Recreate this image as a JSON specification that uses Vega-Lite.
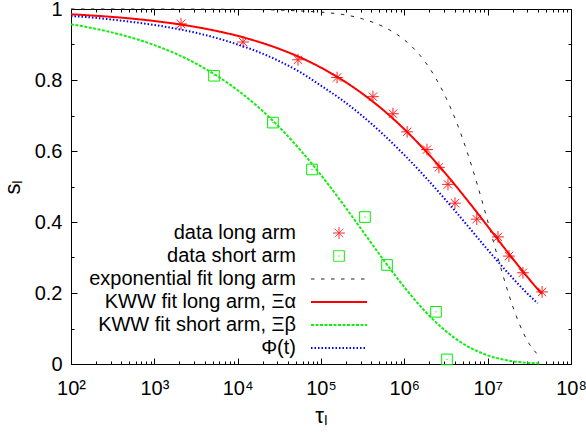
{
  "$schema": "https://vega.github.io/schema/vega-lite/v6.json",
  "width": 500,
  "height": 355,
  "autosize": "none",
  "padding": {"left": 71, "top": 9, "right": 15, "bottom": 79},
  "background": "white",
  "config": {
    "font": "Liberation Sans",
    "view": {"stroke": "black", "strokeWidth": 1},
    "axis": {"grid": false, "domain": false, "tickColor": "black", "labelColor": "black", "labelFont": "Liberation Sans", "labelFontSize": 20, "titleFont": "Liberation Sans", "titleFontWeight": "normal", "titleColor": "black", "labelOverlap": false, "labelFlush": false, "labelBound": false},
    "legend": {"orient": "none", "legendX": 258, "legendY": 214, "title": null, "symbolSize": 3136, "symbolStrokeWidth": 1, "rowPadding": 3, "labelAlign": "right", "labelOffset": -53, "labelFontSize": 20, "labelFont": "Liberation Sans", "labelColor": "black", "labelLimit": 400, "padding": 0}
  },
  "datasets": {
    "points": [
      {"series": "data long arm", "t": 2090, "s": 0.958},
      {"series": "data long arm", "t": 11600, "s": 0.907},
      {"series": "data long arm", "t": 53000, "s": 0.857},
      {"series": "data long arm", "t": 156000, "s": 0.807},
      {"series": "data long arm", "t": 420000, "s": 0.753},
      {"series": "data long arm", "t": 730000, "s": 0.705},
      {"series": "data long arm", "t": 1080000, "s": 0.654},
      {"series": "data long arm", "t": 1870000, "s": 0.604},
      {"series": "data long arm", "t": 2600000, "s": 0.554},
      {"series": "data long arm", "t": 3340000, "s": 0.506},
      {"series": "data long arm", "t": 4050000, "s": 0.453},
      {"series": "data long arm", "t": 7400000, "s": 0.408},
      {"series": "data long arm", "t": 13300000, "s": 0.358},
      {"series": "data long arm", "t": 18000000, "s": 0.304},
      {"series": "data long arm", "t": 26500000, "s": 0.257},
      {"series": "data long arm", "t": 45000000, "s": 0.203},
      {"series": "data short arm", "t": 5200, "s": 0.812},
      {"series": "data short arm", "t": 26500, "s": 0.680},
      {"series": "data short arm", "t": 78000, "s": 0.548},
      {"series": "data short arm", "t": 337000, "s": 0.414},
      {"series": "data short arm", "t": 620000, "s": 0.279},
      {"series": "data short arm", "t": 2400000, "s": 0.147},
      {"series": "data short arm", "t": 3250000, "s": 0.013}
    ],
    "expfit": [
      {"series": "exponential fit long arm", "t": 100, "s": 1.0},
      {"series": "exponential fit long arm", "t": 1000, "s": 0.9999},
      {"series": "exponential fit long arm", "t": 10000, "s": 0.9991},
      {"series": "exponential fit long arm", "t": 100000, "s": 0.991},
      {"series": "exponential fit long arm", "t": 316228, "s": 0.972},
      {"series": "exponential fit long arm", "t": 562341, "s": 0.950},
      {"series": "exponential fit long arm", "t": 1000000, "s": 0.913},
      {"series": "exponential fit long arm", "t": 1333521, "s": 0.886},
      {"series": "exponential fit long arm", "t": 1778279, "s": 0.851},
      {"series": "exponential fit long arm", "t": 2371374, "s": 0.806},
      {"series": "exponential fit long arm", "t": 3162278, "s": 0.750},
      {"series": "exponential fit long arm", "t": 4216965, "s": 0.682},
      {"series": "exponential fit long arm", "t": 5623413, "s": 0.600},
      {"series": "exponential fit long arm", "t": 7498942, "s": 0.506},
      {"series": "exponential fit long arm", "t": 10000000, "s": 0.403},
      {"series": "exponential fit long arm", "t": 13335214, "s": 0.2975},
      {"series": "exponential fit long arm", "t": 17782794, "s": 0.1987},
      {"series": "exponential fit long arm", "t": 23713737, "s": 0.1158},
      {"series": "exponential fit long arm", "t": 31622777, "s": 0.0564},
      {"series": "exponential fit long arm", "t": 39810717, "s": 0.0268}
    ],
    "fits": [
      {"series": "KWW fit long arm, Ξα", "t": 100, "s": 0.9851},
      {"series": "KWW fit long arm, Ξα", "t": 177.8, "s": 0.9817},
      {"series": "KWW fit long arm, Ξα", "t": 316.2, "s": 0.9776},
      {"series": "KWW fit long arm, Ξα", "t": 562.3, "s": 0.9725},
      {"series": "KWW fit long arm, Ξα", "t": 1000, "s": 0.9662},
      {"series": "KWW fit long arm, Ξα", "t": 1778, "s": 0.9586},
      {"series": "KWW fit long arm, Ξα", "t": 3162, "s": 0.9493},
      {"series": "KWW fit long arm, Ξα", "t": 5623, "s": 0.9380},
      {"series": "KWW fit long arm, Ξα", "t": 10000, "s": 0.9243},
      {"series": "KWW fit long arm, Ξα", "t": 17783, "s": 0.9076},
      {"series": "KWW fit long arm, Ξα", "t": 31623, "s": 0.8876},
      {"series": "KWW fit long arm, Ξα", "t": 56234, "s": 0.8636},
      {"series": "KWW fit long arm, Ξα", "t": 100000, "s": 0.8349},
      {"series": "KWW fit long arm, Ξα", "t": 177828, "s": 0.8009},
      {"series": "KWW fit long arm, Ξα", "t": 316228, "s": 0.7610},
      {"series": "KWW fit long arm, Ξα", "t": 562341, "s": 0.7147},
      {"series": "KWW fit long arm, Ξα", "t": 1000000, "s": 0.6614},
      {"series": "KWW fit long arm, Ξα", "t": 1778279, "s": 0.6014},
      {"series": "KWW fit long arm, Ξα", "t": 3162278, "s": 0.5350},
      {"series": "KWW fit long arm, Ξα", "t": 5623413, "s": 0.4632},
      {"series": "KWW fit long arm, Ξα", "t": 10000000, "s": 0.3880},
      {"series": "KWW fit long arm, Ξα", "t": 17782794, "s": 0.3120},
      {"series": "KWW fit long arm, Ξα", "t": 31622777, "s": 0.2386},
      {"series": "KWW fit long arm, Ξα", "t": 44668359, "s": 0.1973},
      {"series": "KWW fit short arm, Ξβ", "t": 100, "s": 0.9568},
      {"series": "KWW fit short arm, Ξβ", "t": 177.8, "s": 0.9464},
      {"series": "KWW fit short arm, Ξβ", "t": 316.2, "s": 0.9335},
      {"series": "KWW fit short arm, Ξβ", "t": 562.3, "s": 0.9178},
      {"series": "KWW fit short arm, Ξβ", "t": 1000, "s": 0.8984},
      {"series": "KWW fit short arm, Ξβ", "t": 1778, "s": 0.8748},
      {"series": "KWW fit short arm, Ξβ", "t": 3162, "s": 0.8463},
      {"series": "KWW fit short arm, Ξβ", "t": 5623, "s": 0.8120},
      {"series": "KWW fit short arm, Ξβ", "t": 10000, "s": 0.7711},
      {"series": "KWW fit short arm, Ξβ", "t": 17783, "s": 0.7230},
      {"series": "KWW fit short arm, Ξβ", "t": 31623, "s": 0.6670},
      {"series": "KWW fit short arm, Ξβ", "t": 56234, "s": 0.6033},
      {"series": "KWW fit short arm, Ξβ", "t": 100000, "s": 0.5322},
      {"series": "KWW fit short arm, Ξβ", "t": 177828, "s": 0.4551},
      {"series": "KWW fit short arm, Ξβ", "t": 316228, "s": 0.3744},
      {"series": "KWW fit short arm, Ξβ", "t": 562341, "s": 0.2934},
      {"series": "KWW fit short arm, Ξβ", "t": 1000000, "s": 0.2164},
      {"series": "KWW fit short arm, Ξβ", "t": 1778279, "s": 0.1481},
      {"series": "KWW fit short arm, Ξβ", "t": 3162278, "s": 0.0922},
      {"series": "KWW fit short arm, Ξβ", "t": 5623413, "s": 0.0510},
      {"series": "KWW fit short arm, Ξβ", "t": 10000000, "s": 0.0244},
      {"series": "KWW fit short arm, Ξβ", "t": 17782794, "s": 0.0097},
      {"series": "KWW fit short arm, Ξβ", "t": 31622777, "s": 0.0031},
      {"series": "KWW fit short arm, Ξβ", "t": 41686938, "s": 0.0016},
      {"series": "Φ(t)", "t": 100, "s": 0.980},
      {"series": "Φ(t)", "t": 177.8, "s": 0.976},
      {"series": "Φ(t)", "t": 316.2, "s": 0.970},
      {"series": "Φ(t)", "t": 562.3, "s": 0.963},
      {"series": "Φ(t)", "t": 1000, "s": 0.955},
      {"series": "Φ(t)", "t": 1778, "s": 0.945},
      {"series": "Φ(t)", "t": 3162, "s": 0.933},
      {"series": "Φ(t)", "t": 5623, "s": 0.918},
      {"series": "Φ(t)", "t": 10000, "s": 0.900},
      {"series": "Φ(t)", "t": 17783, "s": 0.879},
      {"series": "Φ(t)", "t": 31623, "s": 0.853},
      {"series": "Φ(t)", "t": 56234, "s": 0.822},
      {"series": "Φ(t)", "t": 100000, "s": 0.784},
      {"series": "Φ(t)", "t": 177828, "s": 0.744},
      {"series": "Φ(t)", "t": 316228, "s": 0.698},
      {"series": "Φ(t)", "t": 562341, "s": 0.646},
      {"series": "Φ(t)", "t": 1000000, "s": 0.589},
      {"series": "Φ(t)", "t": 1778279, "s": 0.527},
      {"series": "Φ(t)", "t": 3162278, "s": 0.461},
      {"series": "Φ(t)", "t": 5623413, "s": 0.392},
      {"series": "Φ(t)", "t": 10000000, "s": 0.322},
      {"series": "Φ(t)", "t": 17782794, "s": 0.255},
      {"series": "Φ(t)", "t": 31622777, "s": 0.193},
      {"series": "Φ(t)", "t": 39810717, "s": 0.171}
    ]
  },
  "layer": [
    {
      "data": {"name": "points"},
      "mark": {"type": "point", "filled": false, "strokeWidth": 1, "size": 3136, "opacity": 1},
      "encoding": {
        "x": {"field": "t", "type": "quantitative", "scale": {"type": "log", "domain": [100, 100000000], "nice": false},
          "axis": {"orient": "bottom", "title": "τₗ", "titleFontSize": 22, "titlePadding": 4,
            "values": [100,200,300,400,500,600,700,800,900,1000,2000,3000,4000,5000,6000,7000,8000,9000,10000,20000,30000,40000,50000,60000,70000,80000,90000,100000,200000,300000,400000,500000,600000,700000,800000,900000,1000000,2000000,3000000,4000000,5000000,6000000,7000000,8000000,9000000,10000000,20000000,30000000,40000000,50000000,60000000,70000000,80000000,90000000,100000000],
            "labelExpr": "abs(log(datum.value)/LN10 - round(log(datum.value)/LN10)) < 0.001 ? '10' + ['⁰','¹','²','³','⁴','⁵','⁶','⁷','⁸','⁹'][round(log(datum.value)/LN10)] : ''",
            "tickSize": {"condition": {"test": "abs(log(datum.value)/LN10 - round(log(datum.value)/LN10)) < 0.001", "value": -6}, "value": -3},
            "labelPadding": 20}},
        "y": {"field": "s", "type": "quantitative", "scale": {"domain": [0, 1], "nice": false, "zero": false},
          "axis": {"orient": "left", "title": "sₗ", "titleFontSize": 22, "titlePadding": 10, "format": "~g",
            "values": [0,0.1,0.2,0.3,0.4,0.5,0.6,0.7,0.8,0.9,1],
            "labelExpr": "round(datum.value*10) % 2 == 0 ? datum.label : ''",
            "tickSize": {"condition": {"test": "round(datum.value*10) % 2 == 0", "value": -6}, "value": -3},
            "labelPadding": 15}},
        "color": {"field": "series", "type": "nominal",
          "scale": {"domain": ["data long arm", "data short arm", "exponential fit long arm", "KWW fit long arm, Ξα", "KWW fit short arm, Ξβ", "Φ(t)"], "range": ["#ff2020", "#00ee00", "#222222", "#ff0000", "#11ee11", "#0000ff"]},
          "legend": {"encode": {"symbols": {"update": {"fill": {"value": "transparent"}, "strokeWidth": {"signal": "datum.value === 'data long arm' || datum.value === 'data short arm' || datum.value === 'exponential fit long arm' ? 1 : 2"}}}}}},
        "shape": {"field": "series", "type": "nominal",
          "scale": {"domain": ["data long arm", "data short arm", "exponential fit long arm", "KWW fit long arm, Ξα", "KWW fit short arm, Ξβ", "Φ(t)"], "range": ["M-0.21,0L0.21,0M0,-0.21L0,0.21M-0.15,-0.15L0.15,0.15M-0.15,0.15L0.15,-0.15", "M-0.19,-0.19L0.19,-0.19L0.19,0.19L-0.19,0.19ZM-0.02,0L0.02,0", "stroke", "stroke", "stroke", "stroke"]},
          "legend": {"encode": {"symbols": {"update": {"fill": {"value": "transparent"}, "strokeWidth": {"signal": "datum.value === 'data long arm' || datum.value === 'data short arm' || datum.value === 'exponential fit long arm' ? 1 : 2"}}}}}}
      }
    },
    {
      "data": {"name": "expfit"},
      "mark": {"type": "line", "strokeWidth": 1, "interpolate": "monotone"},
      "encoding": {
        "x": {"field": "t", "type": "quantitative",
          "axis": {"orient": "top", "title": null, "labels": false,
            "values": [100,200,300,400,500,600,700,800,900,1000,2000,3000,4000,5000,6000,7000,8000,9000,10000,20000,30000,40000,50000,60000,70000,80000,90000,100000,200000,300000,400000,500000,600000,700000,800000,900000,1000000,2000000,3000000,4000000,5000000,6000000,7000000,8000000,9000000,10000000,20000000,30000000,40000000,50000000,60000000,70000000,80000000,90000000,100000000],
            "tickSize": {"condition": {"test": "abs(log(datum.value)/LN10 - round(log(datum.value)/LN10)) < 0.001", "value": -6}, "value": -3}}},
        "y": {"field": "s", "type": "quantitative",
          "axis": {"orient": "right", "title": null, "labels": false,
            "values": [0,0.1,0.2,0.3,0.4,0.5,0.6,0.7,0.8,0.9,1],
            "tickSize": {"condition": {"test": "round(datum.value*10) % 2 == 0", "value": -6}, "value": -3}}},
        "color": {"field": "series", "type": "nominal",
          "legend": {"encode": {"symbols": {"update": {"fill": {"value": "transparent"}, "strokeWidth": {"signal": "datum.value === 'data long arm' || datum.value === 'data short arm' || datum.value === 'exponential fit long arm' ? 1 : 2"}}}}}},
        "strokeDash": {"field": "series", "type": "nominal",
          "scale": {"domain": ["data long arm", "data short arm", "exponential fit long arm", "KWW fit long arm, Ξα", "KWW fit short arm, Ξβ", "Φ(t)"], "range": [[1, 0], [1, 0], [3.5, 6.5], [1, 0], [3, 1.5], [1.5, 2]]},
          "legend": {"encode": {"symbols": {"update": {"fill": {"value": "transparent"}, "strokeWidth": {"signal": "datum.value === 'data long arm' || datum.value === 'data short arm' || datum.value === 'exponential fit long arm' ? 1 : 2"}}}}}}
      }
    },
    {
      "data": {"name": "fits"},
      "mark": {"type": "line", "strokeWidth": 2, "interpolate": "monotone"},
      "encoding": {
        "x": {"field": "t", "type": "quantitative", "axis": null},
        "y": {"field": "s", "type": "quantitative", "axis": null},
        "color": {"field": "series", "type": "nominal",
          "legend": {"encode": {"symbols": {"update": {"fill": {"value": "transparent"}, "strokeWidth": {"signal": "datum.value === 'data long arm' || datum.value === 'data short arm' || datum.value === 'exponential fit long arm' ? 1 : 2"}}}}}},
        "strokeDash": {"field": "series", "type": "nominal",
          "legend": {"encode": {"symbols": {"update": {"fill": {"value": "transparent"}, "strokeWidth": {"signal": "datum.value === 'data long arm' || datum.value === 'data short arm' || datum.value === 'exponential fit long arm' ? 1 : 2"}}}}}}
      }
    }
  ],
  "resolve": {"axis": {"x": "independent", "y": "independent"}}
}
